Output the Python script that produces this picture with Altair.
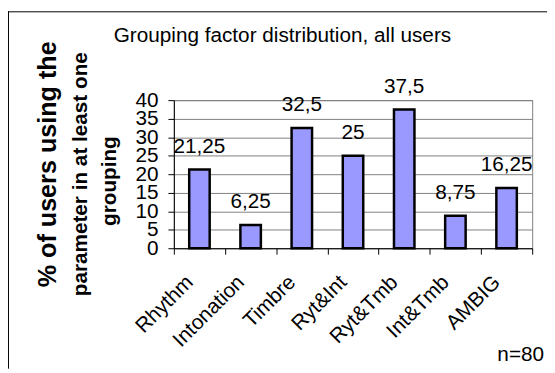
import altair as alt
import pandas as pd

categories = ["Rhythm", "Intonation", "Timbre", "Ryt&Int", "Ryt&Tmb", "Int&Tmb", "AMBIG"]
values = [21.25, 6.25, 32.5, 25, 37.5, 8.75, 16.25]
value_labels = ["21,25", "6,25", "32,5", "25", "37,5", "8,75", "16,25"]
y_ticks = [0, 5, 10, 15, 20, 25, 30, 35, 40]
title_text = "Grouping factor distribution, all users"
y_title_lines = ["% of users using the", "parameter in at least one", "grouping"]
note_text = "n=80"

df = pd.DataFrame({"cat": categories, "val": values, "lab": value_labels})

FONT = "Liberation Sans"
W, H = 363, 150

x_enc = alt.X(
    "cat:N", sort=categories, title=None,
    scale=alt.Scale(paddingInner=0, paddingOuter=0),
    axis=alt.Axis(
        labelAngle=-45, labelAlign="right", labelBaseline="middle",
        labelFontSize=21, labelFont=FONT, labelColor="black",
        labelPadding=25, labelOffset=-10, tickBand="extent", tickSize=6,
        tickColor="black", domainColor="black", grid=False, labelOverlap=False,
    ),
)
y_enc = alt.Y(
    "val:Q", scale=alt.Scale(domain=[0, 40], nice=False),
    axis=alt.Axis(
        values=y_ticks, title=None, labelFontSize=21, labelFont=FONT, labelColor="black",
        labelPadding=10, tickSize=6, tickColor="black", domainColor="black",
        gridColor="#808080", gridWidth=1, labelOverlap=False, labelBound=False,
    ),
)

bars = alt.Chart(df).mark_bar(
    fill="#9999FF", stroke="black", strokeWidth=2.5, width=alt.RelativeBandSize(0.4)
).encode(x=x_enc, y=y_enc)

texts = alt.Chart(df).mark_text(
    font=FONT, fontSize=21, baseline="alphabetic", dy=-17, color="black"
).encode(x=x_enc, y=y_enc, text="lab:N")

title = alt.Chart(pd.DataFrame({"t": [title_text]})).mark_text(
    font=FONT, fontSize=21, baseline="alphabetic", align="center", color="black"
).encode(text="t:N", x=alt.value(110), y=alt.value(-59))

# y-axis title, three rotated lines
yt_specs = [(y_title_lines[0], 25.5, -119, 65), (y_title_lines[1], 21, -87.5, 75), (y_title_lines[2], 21, -59, 82)]
yt_layers = []
for txt, fs, xv, yv in yt_specs:
    yt_layers.append(
        alt.Chart(pd.DataFrame({"t": [txt]})).mark_text(
            font=FONT, fontSize=fs, fontWeight="bold", angle=270,
            baseline="alphabetic", align="center", color="black"
        ).encode(text="t:N", x=alt.value(xv), y=alt.value(yv))
    )

note = alt.Chart(pd.DataFrame({"t": [note_text]})).mark_text(
    font=FONT, fontSize=21, baseline="alphabetic", align="right", color="black"
).encode(text="t:N", x=alt.value(375), y=alt.value(264))

top_rule = alt.Chart(pd.DataFrame({"a": [0]})).mark_rule(color="black", strokeWidth=1).encode(
    x=alt.value(-168), x2=alt.value(379), y=alt.value(-89.5)
)
left_rule = alt.Chart(pd.DataFrame({"a": [0]})).mark_rule(color="black", strokeWidth=1).encode(
    x=alt.value(-167.5), y=alt.value(-90), y2=alt.value(272)
)

chart = alt.layer(bars, texts, title, *yt_layers, note, top_rule, left_rule).properties(
    width=W, height=H,
    autosize=alt.AutoSizeParams(type="none"),
    padding={"left": 168, "top": 91, "right": 15, "bottom": 122},
    background="white",
).configure_view(stroke="#808080", strokeWidth=1)

chart.save("out.html", embed_options={"renderer": "svg", "actions": False})
